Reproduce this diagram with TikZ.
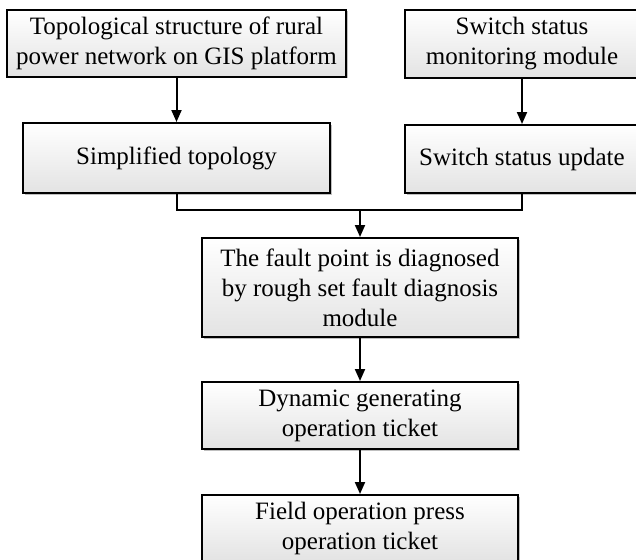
\documentclass[tikz,border=0pt]{standalone}
\usepackage{fontspec}
\setmainfont{Liberation Serif}
\usetikzlibrary{arrows.meta,shadows}
\begin{document}
\begin{tikzpicture}[x=1pt,y=-1pt,
  box/.style={draw=black, line width=2pt, top color=white, bottom color=black!11,
    drop shadow={shadow xshift=1.5pt, shadow yshift=-1.5pt, fill=black, opacity=0.25},
    inner sep=0pt, align=center, font=\fontsize{25}{30}\selectfont},
  conn/.style={draw=black, line width=2pt},
  arr/.style={conn, -{Triangle[length=12pt,width=10pt]}}]
\useasboundingbox (0,0) rectangle (636,559);
\clip (0,0) rectangle (636,559);
\node[box, minimum width=339pt, minimum height=67pt] (b1) at (176.5,43.5) {Topological structure of rural\\power network on GIS platform};
\node[box, minimum width=307pt, minimum height=70pt] (b2) at (176.5,158) {Simplified topology};
\node[box, minimum width=234pt, minimum height=68pt] (b3) at (522,44) {Switch status\\monitoring module};
\node[box, minimum width=234pt, minimum height=68pt] (b4) at (522,159) {Switch status update};
\node[box, minimum width=316pt, minimum height=99pt] (b5) at (360,287.5) {The fault point is diagnosed\\by rough set fault diagnosis\\module};
\node[box, minimum width=316pt, minimum height=67pt] (b6) at (360,415.5) {Dynamic generating\\operation ticket};
\node[box, minimum width=316pt, minimum height=67pt] (b7) at (360,528.5) {Field operation press\\operation ticket};
\coordinate (j) at (360,210);
\draw[arr] (b1.south) -- (b2.north);
\draw[arr] (b3.south) -- (b4.north);
\draw[conn] (b2.south) |- (j) -| (b4.south);
\draw[arr] (j) -- (b5.north);
\draw[arr] (b5.south) -- (b6.north);
\draw[arr] (b6.south) -- (b7.north);
\end{tikzpicture}
\end{document}
